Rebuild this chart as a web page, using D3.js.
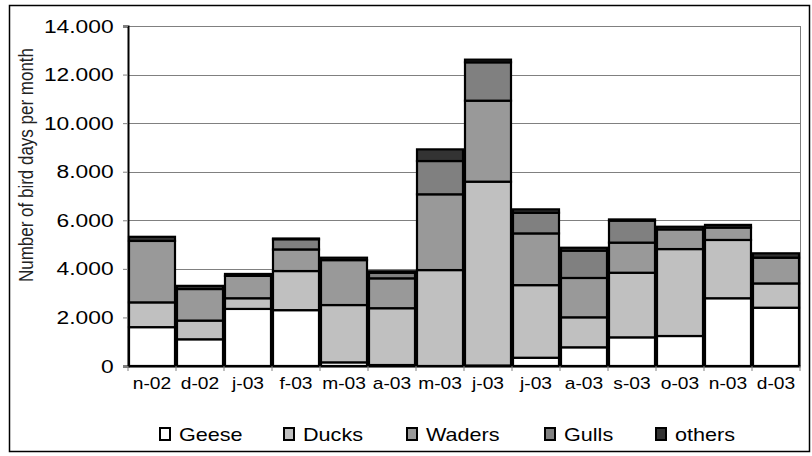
<!DOCTYPE html>
<html>
<head>
<meta charset="utf-8">
<script src="https://cdn.jsdelivr.net/npm/d3@7"></script>
<style>
    body { margin: 0; background: #fff; }
    svg { font-family: "Liberation Sans", Arial, sans-serif; }
</style>
</head>
<body>
<div id="chart"></div>
<script>
const months = ['n-02', 'd-02', 'j-03', 'f-03', 'm-03', 'a-03', 'm-03', 'j-03', 'j-03', 'a-03', 's-03', 'o-03', 'n-03', 'd-03'];
const seriesNames = ['Geese', 'Ducks', 'Waders', 'Gulls', 'others'];
const geese  = [1600, 1100, 2350, 2300, 150, 40, 0, 20, 340, 770, 1180, 1235, 2790, 2400];
const ducks  = [1020, 770, 440, 1610, 2360, 2340, 3950, 7570, 2990, 1235, 2660, 3580, 2400, 1000];
const waders = [2530, 1300, 920, 890, 1850, 1230, 3120, 3335, 2130, 1620, 1240, 810, 510, 1060];
const gulls  = [0, 0, 0, 420, 0, 230, 1370, 1580, 850, 1125, 905, 0, 0, 0];
const others = [170, 130, 80, 30, 100, 60, 480, 110, 140, 120, 50, 110, 110, 180];
const yTicks = [0, 2000, 4000, 6000, 8000, 10000, 12000, 14000];

const colors = ['#ffffff', '#c0c0c0', '#999999', '#808080', '#333333'];

const width = 812, height = 456;
const margin = {top: 26, right: 12, bottom: 90, left: 128};
const stretch = 'scale(1.2,1)'; // the original text is rendered wide

const svg = d3.select('#chart').append('svg')
    .attr('width', width)
    .attr('height', height);

// outer chart border
svg.append('rect')
    .attr('x', 9.5).attr('y', 5.5)
    .attr('width', 800).attr('height', 446)
    .attr('fill', 'none')
    .attr('stroke', '#000')
    .attr('stroke-width', 1.5);

// build rows for the stack
const rows = months.map((m, i) => ({
    idx: i,
    Geese: geese[i], Ducks: ducks[i], Waders: waders[i], Gulls: gulls[i], others: others[i]
}));

const stacked = d3.stack().keys(seriesNames)(rows);

const x = d3.scaleBand()
    .domain(months.map((m, i) => i))
    .range([margin.left, width - margin.right])
    .padding(0);

const y = d3.scaleLinear()
    .domain([0, 14000])
    .range([height - margin.bottom, margin.top]);

const fmt = d3.formatLocale({decimal: ',', thousands: '.', grouping: [3], currency: ['', '']}).format(',');

// gridlines
svg.append('g')
    .selectAll('line')
    .data(yTicks.filter(t => t > 0))
    .enter().append('line')
    .attr('x1', margin.left).attr('x2', width - margin.right)
    .attr('y1', d => Math.round(y(d)) + 0.5).attr('y2', d => Math.round(y(d)) + 0.5)
    .attr('stroke', '#808080')
    .attr('stroke-width', 1);

// right edge of plot area
svg.append('line')
    .attr('x1', width - margin.right + 0.5).attr('x2', width - margin.right + 0.5)
    .attr('y1', margin.top).attr('y2', height - margin.bottom)
    .attr('stroke', '#808080');

// bars
svg.append('g')
    .selectAll('g')
    .data(stacked)
    .enter().append('g')
    .attr('fill', (d, i) => colors[i])
    .selectAll('rect')
    .data(d => d)
    .enter().append('rect')
    .attr('x', d => x(d.data.idx) + 1)
    .attr('y', d => y(d[1]))
    .attr('width', x.bandwidth() - 2)
    .attr('height', d => y(d[0]) - y(d[1]))
    .attr('stroke', '#000')
    .attr('stroke-width', 2.2);

// y axis
const yAxis = svg.append('g')
    .attr('transform', `translate(${margin.left},0)`)
    .call(d3.axisLeft(y).tickValues(yTicks).tickFormat(fmt).tickSize(5).tickPadding(7));
yAxis.select('.domain').attr('stroke', '#000').attr('stroke-width', 2);
yAxis.selectAll('.tick line').attr('stroke', '#808080');
yAxis.selectAll('text')
    .style('font-size', '19px')
    .attr('transform', stretch)
    .attr('fill', '#000');

// x axis
const xAxis = svg.append('g')
    .attr('transform', `translate(0,${height - margin.bottom})`)
    .call(d3.axisBottom(x).tickFormat(i => months[i]).tickSize(0).tickPadding(12));
xAxis.select('.domain').attr('stroke', '#000').attr('stroke-width', 2);
xAxis.selectAll('text')
    .style('font-size', '16px')
    .attr('transform', stretch)
    .attr('fill', '#000');

// small boundary ticks between categories
svg.append('g')
    .selectAll('line')
    .data(d3.range(months.length + 1))
    .enter().append('line')
    .attr('x1', i => margin.left + i * x.bandwidth())
    .attr('x2', i => margin.left + i * x.bandwidth())
    .attr('y1', height - margin.bottom)
    .attr('y2', height - margin.bottom + 5)
    .attr('stroke', '#808080');

// y axis title
svg.append('text')
    .attr('transform', 'translate(33,165) rotate(-90) scale(1,1.15)')
    .attr('text-anchor', 'middle')
    .style('font-size', '17px')
    .attr('fill', '#222')
    .text('Number of bird days per month');

// legend
const legendX = [160, 284, 407, 545, 656];
const legend = svg.append('g')
    .selectAll('g')
    .data(seriesNames)
    .enter().append('g')
    .attr('transform', (d, i) => `translate(${legendX[i]},434)`);
legend.append('rect')
    .attr('x', 0).attr('y', -6)
    .attr('width', 10).attr('height', 12)
    .attr('fill', (d, i) => colors[i])
    .attr('stroke', '#000')
    .attr('stroke-width', 2);
legend.append('text')
    .attr('transform', 'translate(19,7) ' + stretch)
    .style('font-size', '18px')
    .attr('fill', '#000')
    .text(d => d);
</script>
</body>
</html>
